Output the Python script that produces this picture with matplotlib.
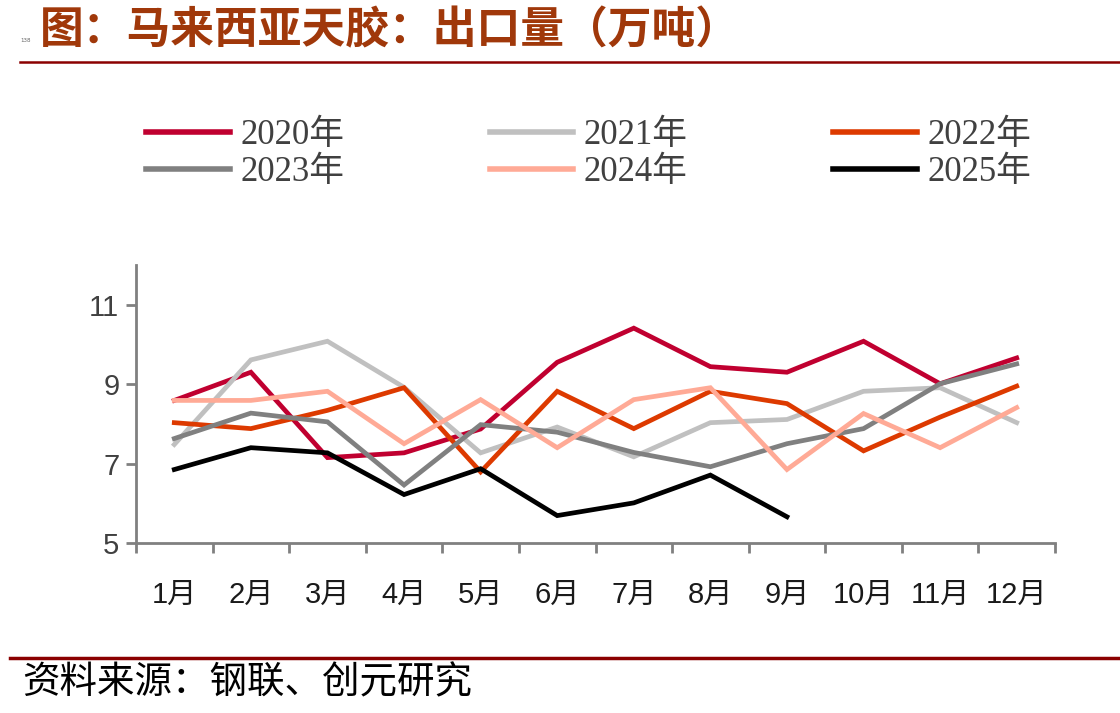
import matplotlib
matplotlib.use("Agg")
import matplotlib.pyplot as plt
from matplotlib.lines import Line2D

months = ["1月", "2月", "3月", "4月", "5月", "6月", "7月", "8月", "9月", "10月", "11月", "12月"]
series_names = ["2020年", "2021年", "2022年", "2023年", "2024年", "2025年"]
v2020 = [8.59, 9.30, 7.15, 7.27, 7.87, 9.55, 10.41, 9.44, 9.30, 10.08, 9.01, 9.66]
v2021 = [7.48, 9.61, 10.08, 8.92, 7.27, 7.92, 7.17, 8.03, 8.11, 8.82, 8.91, 8.03]
v2022 = [8.03, 7.88, 8.34, 8.91, 6.79, 8.82, 7.88, 8.82, 8.51, 7.32, 8.17, 8.95]
v2023 = [7.63, 8.27, 8.05, 6.46, 7.98, 7.79, 7.28, 6.92, 7.50, 7.88, 9.01, 9.51]
v2024 = [8.59, 8.59, 8.82, 7.50, 8.61, 7.40, 8.61, 8.91, 6.85, 8.26, 7.40, 8.41]
v2025 = [6.85, 7.40, 7.27, 6.22, 6.87, 5.69, 6.01, 6.71, 5.66]
yticks = [5, 7, 9, 11]

colors = ["#C00030", "#C0C0C0", "#DD3A00", "#808080", "#FFAA96", "#000000"]
values = [v2020, v2021, v2022, v2023, v2024, v2025]

W, H = 1120, 713
fig = plt.figure(figsize=(W / 100, H / 100), dpi=100)
ax = fig.add_axes([136 / W, 1 - 543 / H, (1055 - 136) / W, (543 - 265) / H])

x = list(range(len(months)))
for vals, c in zip(values, colors):
    ax.plot(x[:len(vals)], vals, color=c, lw=3.4, solid_joinstyle="miter")

ax.set_xlim(-0.5, len(months) - 0.5)
ax.set_ylim(5, 12)
ax.set_yticks(yticks)
ax.set_yticklabels([str(t) for t in yticks], family=["Liberation Sans", "Noto Sans CJK SC"],
                   fontsize=21, color="#404040")
ax.set_xticks([i - 0.5 for i in range(len(months) + 1)])
ax.set_xticklabels([])
ax.set_xticks(x, minor=True)
ax.set_xticklabels(months, minor=True, family=["Liberation Sans", "Noto Sans CJK SC"],
                   fontsize=21, color="#1a1a1a")
ax.tick_params(axis="x", which="major", length=7, width=2, color="#808080", direction="out")
ax.tick_params(axis="x", which="minor", length=0, pad=27)
ax.tick_params(axis="y", length=7, width=2, color="#808080", direction="out", pad=5)
for s in ["top", "right"]:
    ax.spines[s].set_visible(False)
for s in ["left", "bottom"]:
    ax.spines[s].set_color("#808080")
    ax.spines[s].set_linewidth(2)

# legend (row-major order: 2020 2021 2022 / 2023 2024 2025)
order = [0, 3, 1, 4, 2, 5]
handles = [Line2D([0], [0], color=colors[i], lw=4) for i in order]
labels = [series_names[i] for i in order]
leg = fig.legend(handles, labels, ncol=3, loc="upper left",
                 bbox_to_anchor=(115 / W, 1 - 88 / H), frameon=False,
                 prop={"family": ["Liberation Serif", "Noto Sans CJK SC"], "size": 25},
                 handlelength=2.4, handletextpad=0.3, columnspacing=4.2, labelspacing=0.1)
for t in leg.get_texts():
    t.set_color("#404040")

# title
fig.text(40 / W, 1 - 30 / H, "图：马来西亚天胶：出口量（万吨）", family="Noto Sans CJK SC",
         fontsize=31.5, fontweight="bold", color="#A0380A", va="center", ha="left")
fig.text(20 / W, 1 - 40 / H, "138", fontsize=4, color="#666666", va="center", ha="left")
fig.add_artist(Line2D([20 / W, 1], [1 - 62 / H, 1 - 62 / H], color="#8B0000", lw=1.8))

# source
fig.add_artist(Line2D([10 / W, 1], [1 - 658 / H, 1 - 658 / H], color="#8B0000", lw=2.5))
fig.text(22 / W, 1 - 683 / H, "资料来源：钢联、创元研究", family="Noto Sans CJK SC",
         fontsize=27, color="#000000", va="center", ha="left")

fig.savefig("out.png", dpi=100)
